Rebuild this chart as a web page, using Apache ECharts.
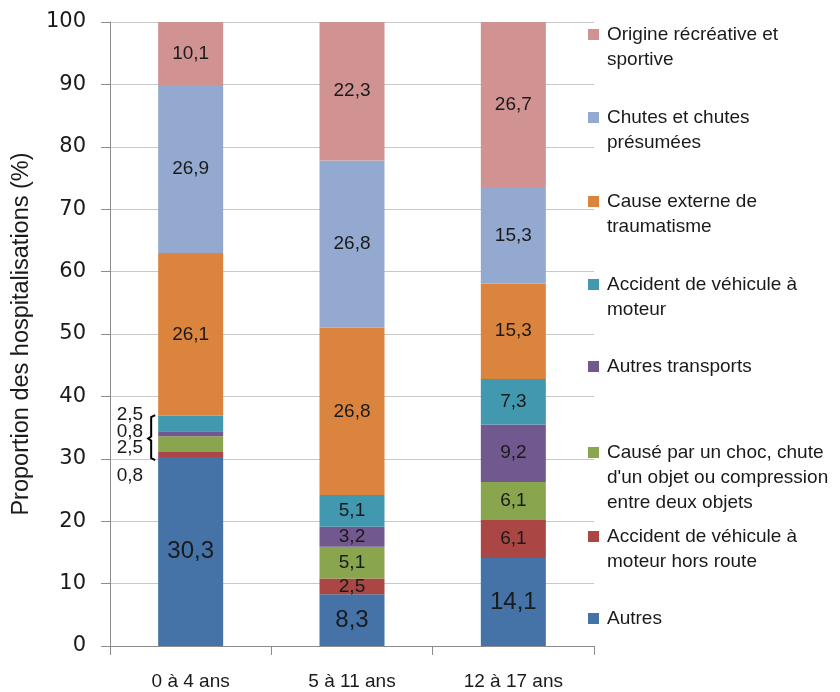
<!DOCTYPE html>
<html><head><meta charset="utf-8">
<script src="https://cdn.jsdelivr.net/npm/echarts@6/dist/echarts.min.js"></script>
<style>html,body{margin:0;padding:0;background:#fff}#c{width:840px;height:692px}</style>
</head><body><div id="c"></div>
<script>
// ---- data ----
const categories = ['0 à 4 ans', '5 à 11 ans', '12 à 17 ans'];
const names = [
  'Autres',
  'Accident de véhicule à moteur hors route',
  "Causé par un choc, chute d'un objet ou compression entre deux objets",
  'Autres transports',
  'Accident de véhicule à moteur',
  'Cause externe de traumatisme',
  'Chutes et chutes présumées',
  'Origine récréative et sportive'
];
const legendLines = [
  ['Autres'],
  ['Accident de véhicule à', 'moteur hors route'],
  ['Causé par un choc, chute', "d'un objet ou compression", 'entre deux objets'],
  ['Autres transports'],
  ['Accident de véhicule à', 'moteur'],
  ['Cause externe de', 'traumatisme'],
  ['Chutes et chutes', 'présumées'],
  ['Origine récréative et', 'sportive']
];
const autres = [30.3, 8.3, 14.1];
const horsRoute = [0.8, 2.5, 6.1];
const choc = [2.5, 5.1, 6.1];
const autresTransports = [0.8, 3.2, 9.2];
const accidentVehicule = [2.5, 5.1, 7.3];
const causeExterne = [26.1, 26.8, 15.3];
const chutes = [26.9, 26.8, 15.3];
const origine = [10.1, 22.3, 26.7];
const values = [autres, horsRoute, choc, autresTransports, accidentVehicule, causeExterne, chutes, origine];
const yMin = 0, yMax = 100, yStep = 10;

// ---- styles ----
const colors = ['#4572A7', '#AA4643', '#89A54E', '#71588F', '#4198AF', '#DB843D', '#93A9CF', '#D19392'];
const legendTop = [619, 537, 453, 367, 285, 202, 118, 35];
// small segments of first bar: labels moved to the left
const outsideOffsets = {1: 21, 2: 4, 3: -2, 4: -8.5};
const fmt = v => v.toFixed(1).replace('.', ',');
const txt = '#1a1a1a';
const font = 'Liberation Sans';

const series = values.map((arr, si) => ({
  name: names[si],
  type: 'bar',
  stack: 'total',
  barWidth: 65,
  itemStyle: { color: colors[si] },
  label: {
    show: true, position: 'inside', color: txt, fontFamily: font,
    fontSize: si === 0 ? 24 : 19,
    formatter: p => fmt(p.value)
  },
  data: arr.map((v, ci) => {
    if (ci === 0 && outsideOffsets[si] !== undefined) {
      return { value: v, label: { position: 'left', distance: 15, offset: [0, outsideOffsets[si]], fontSize: 19 } };
    }
    return v;
  })
}));

const chart = echarts.init(document.getElementById('c'), null, { renderer: 'canvas' });
chart.setOption({
  animation: false,
  backgroundColor: '#fff',
  grid: { left: 110, right: 246, top: 22, bottom: 46, containLabel: false },
  xAxis: {
    type: 'category', data: categories,
    axisLine: { lineStyle: { color: '#8c8c8c', width: 1 } },
    axisTick: { show: true, length: 9, lineStyle: { color: '#8c8c8c' } },
    axisLabel: { color: txt, fontFamily: font, fontSize: 19, margin: 26 }
  },
  yAxis: {
    type: 'value', min: yMin, max: yMax, interval: yStep,
    name: 'Proportion des hospitalisations (%)',
    nameLocation: 'middle', nameGap: 76, nameRotate: 90,
    nameTextStyle: { color: txt, fontFamily: font, fontSize: 23.5 },
    axisLine: { show: true, lineStyle: { color: '#8c8c8c' } },
    axisTick: { show: true, length: 9, lineStyle: { color: '#8c8c8c' } },
    axisLabel: { color: txt, fontFamily: 'DejaVu Sans', fontSize: 21, margin: 24 },
    splitLine: { show: true, lineStyle: { color: '#c8c8c8', width: 1 } }
  },
  series: series
});

// ---- legend & bracket as graphics ----
const g = [];
legendLines.forEach((lines, i) => {
  const y0 = legendTop[i];
  g.push({ type: 'rect', shape: { x: 588, y: y0 - 6, width: 11, height: 11 }, style: { fill: colors[i] } });
  g.push({ type: 'text', x: 607, y: y0 - 12.5, style: {
    text: lines.join('\n'), fill: txt, font: '19px "' + font + '"',
    lineHeight: 25, verticalAlign: 'top', align: 'left'
  } });
});
// bracket around first bar's small segments
const top5 = autres[0] + horsRoute[0] + choc[0] + autresTransports[0] + accidentVehicule[0];
const pTop = chart.convertToPixel({ gridIndex: 0 }, [0, top5 + 0.1]);
const pBot = chart.convertToPixel({ gridIndex: 0 }, [0, autres[0] - 0.5]);
const xb = pTop[0] - 65 / 2 - 7;
const ym = (pTop[1] + pBot[1]) / 2 + 1;
g.push({ type: 'polyline', shape: { points: [
  [xb + 4, pTop[1]], [xb, pTop[1] + 2], [xb, ym - 2], [xb - 3, ym], [xb, ym + 2], [xb, pBot[1] - 2], [xb + 4, pBot[1]]
] }, style: { stroke: '#000', lineWidth: 2, fill: null } });
chart.setOption({ graphic: g });
</script></body></html>
